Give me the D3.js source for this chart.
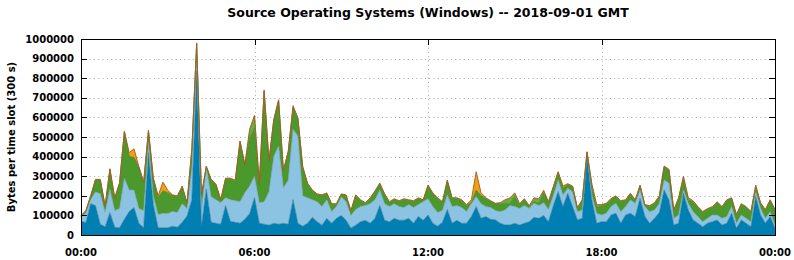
<!DOCTYPE html>
<html>
<head>
<meta charset="utf-8">
<script src="https://cdn.jsdelivr.net/npm/d3@7"></script>
<style>
  html, body { margin: 0; padding: 0; background: #fff; }
  #chart { width: 794px; height: 260px; }
  text { font-family: "DejaVu Sans", sans-serif; font-weight: bold; }
</style>
</head>
<body>
<div id="chart"></div>
<script>
// one sample every 10 minutes, values in kB per 300 s slot
var slotMinutes = 10;

var layerDarkBlue = [
    71,63,160,150,55,42,114,40,37,80,
    120,140,60,37,420,156,37,37,37,45,
    40,65,97,180,840,46,233,65,60,55,
    150,70,65,60,80,110,190,60,55,50,
    60,55,60,55,180,60,45,60,90,68,
    50,85,60,85,100,75,35,50,68,75,
    60,85,150,75,68,85,75,75,85,60,
    95,75,102,60,45,65,130,60,75,60,
    60,94,145,85,94,80,77,60,51,51,
    60,51,60,68,90,85,100,68,150,221,
    145,213,145,77,85,408,179,60,68,68,
    102,111,60,102,111,94,187,94,60,85,
    115,230,179,51,60,213,128,77,60,42,
    60,68,77,51,60,111,34,77,60,42,
    196,102,60,94,34
];
var layerLightBlue = [
    17,51,20,70,155,73,119,85,98,210,
    110,90,75,88,51,43,68,73,73,75,
    75,95,38,160,73,85,110,130,120,110,
    40,110,110,110,136,140,110,105,115,170,
    340,399,180,225,359,445,155,130,90,102,
    95,95,60,60,95,95,65,80,77,75,
    100,95,80,85,77,75,70,65,70,80,
    60,95,83,85,70,60,75,85,75,80,
    60,66,51,75,51,60,48,59,77,99,
    85,84,90,68,72,65,65,62,50,60,
    59,25,75,42,43,9,25,51,34,43,
    43,51,59,43,68,68,43,51,59,43,
    45,51,85,34,42,17,34,42,34,26,
    25,34,25,34,34,34,26,25,25,26,
    25,34,25,25,17
];
var layerGreen = [
    8,7,16,60,70,31,101,61,128,236,
    170,165,211,141,60,89,85,115,106,81,
    81,86,26,96,63,72,5,85,76,13,
    96,106,101,306,140,246,246,88,564,156,
    186,232,86,144,113,89,146,71,46,36,
    56,31,36,11,11,31,21,71,31,11,
    26,41,31,46,21,21,26,41,21,31,
    31,6,66,66,71,41,71,41,36,36,
    31,5,32,41,41,31,33,42,33,10,
    51,21,31,10,9,11,49,36,43,38,
    36,20,26,17,48,4,37,30,49,47,
    38,34,52,31,30,14,21,6,27,33,
    36,67,67,39,84,51,14,52,47,48,
    46,39,64,56,82,41,41,54,56,48,
    20,25,41,57,75
];
var layerLightGreen = [
    0,0,0,0,0,0,0,0,0,0,
    0,0,0,0,0,0,0,0,0,0,
    0,0,0,0,0,0,0,0,0,0,
    0,0,0,0,0,40,60,10,0,0,
    0,0,0,0,0,0,0,0,0,0,
    0,0,0,0,0,0,0,0,0,0,
    0,0,0,0,0,0,0,0,0,0,
    0,0,0,0,0,0,0,0,0,0,
    0,0,0,0,0,0,0,0,15,25,
    15,0,0,0,15,20,10,0,0,0,
    0,0,0,0,0,0,15,10,0,0,
    0,0,0,0,0,0,0,0,0,0,
    0,0,0,0,0,15,10,0,0,0,
    0,0,0,0,0,0,0,0,0,0,
    10,0,0,0,0
];
var layerOrange = [
    4,4,4,4,4,4,4,4,4,4,
    20,45,4,4,4,4,10,45,12,4,
    4,4,4,4,4,4,4,4,4,4,
    4,4,4,4,4,4,4,4,6,4,
    4,4,4,4,8,4,4,4,4,4,
    4,4,4,4,4,4,4,4,4,4,
    4,4,4,4,4,4,4,4,4,4,
    4,4,4,4,4,4,4,4,4,4,
    4,15,95,15,4,4,4,4,4,4,
    4,4,4,4,4,4,4,4,4,4,
    10,4,4,4,4,4,4,4,4,4,
    4,4,4,4,4,4,4,4,4,4,
    4,4,4,4,4,4,4,4,4,4,
    4,4,4,4,4,4,4,4,4,4,
    4,4,4,4,4
];

var layerKeys = ['darkBlue', 'lightBlue', 'green', 'lightGreen', 'orange'];
var layerFill = ['#0080b2', '#8cc3e3', '#4b992c', '#62b244', '#f0a010'];
var layerEdge = ['#2f6f8f', '#7a9fb5', '#3f7a25', '#4f9636', '#b0561c'];

var yTicks = [0, 100000, 200000, 300000, 400000, 500000, 600000, 700000, 800000, 900000, 1000000];
var xTicks = [0, 360, 720, 1080, 1440];
var xTickLabels = ['00:00', '06:00', '12:00', '18:00', '00:00'];

function drawChart() {
    var container = document.getElementById('chart');
    var width = 794, height = 260;
    var margin = { top: 39, right: 19, bottom: 25, left: 81 };
    var innerWidth = width - margin.left - margin.right;
    var innerHeight = height - margin.top - margin.bottom;

    var rows = layerDarkBlue.map(function(v, i) {
        return {
            minute: i * slotMinutes,
            darkBlue: v * 1000,
            lightBlue: layerLightBlue[i] * 1000,
            green: layerGreen[i] * 1000,
            lightGreen: layerLightGreen[i] * 1000,
            orange: layerOrange[i] * 1000
        };
    });

    var series = d3.stack().keys(layerKeys)(rows);

    var svg = d3.select(container).append('svg')
        .attr('width', width)
        .attr('height', height);

    var g = svg.append('g')
        .attr('transform', 'translate(' + margin.left + ',' + margin.top + ')');

    var x = d3.scaleLinear().domain([0, 1440]).range([0, innerWidth]);
    var y = d3.scaleLinear().domain([0, 1000000]).range([innerHeight, 0]);

    // dotted grid
    g.selectAll('line.hgrid')
        .data(yTicks.slice(1, -1))
        .enter().append('line')
        .attr('class', 'hgrid')
        .attr('x1', 0).attr('x2', innerWidth)
        .attr('y1', function(d){ return Math.round(y(d)) + 0.5; })
        .attr('y2', function(d){ return Math.round(y(d)) + 0.5; })
        .attr('stroke', '#a8a8a8')
        .attr('stroke-dasharray', '1,3.3');

    g.selectAll('line.vgrid')
        .data(xTicks.slice(1, -1))
        .enter().append('line')
        .attr('class', 'vgrid')
        .attr('x1', function(d){ return Math.round(x(d)) + 0.5; })
        .attr('x2', function(d){ return Math.round(x(d)) + 0.5; })
        .attr('y1', 0).attr('y2', innerHeight)
        .attr('stroke', '#a8a8a8')
        .attr('stroke-dasharray', '1,3.3');

    // stacked areas
    var area = d3.area()
        .x(function(d){ return x(d.data.minute); })
        .y0(function(d){ return y(d[0]); })
        .y1(function(d){ return y(d[1]); });

    var topLine = d3.line()
        .x(function(d){ return x(d.data.minute); })
        .y(function(d){ return y(d[1]); });

    g.selectAll('path.layer')
        .data(series)
        .enter().append('path')
        .attr('class', 'layer')
        .attr('fill', function(d, i){ return layerFill[i]; })
        .attr('d', area);

    g.selectAll('path.edge')
        .data(series)
        .enter().append('path')
        .attr('class', 'edge')
        .attr('fill', 'none')
        .attr('stroke', function(d, i){ return layerEdge[i]; })
        .attr('stroke-width', 1)
        .attr('opacity', function(d, i){ return i === 4 ? 0.9 : 0.6; })
        .attr('d', topLine);

    // ticks on all four sides, pointing inward
    var tickLen = 6;
    g.selectAll('line.ytickL')
        .data(yTicks)
        .enter().append('line')
        .attr('x1', 0).attr('x2', tickLen)
        .attr('y1', function(d){ return Math.round(y(d)) + 0.5; })
        .attr('y2', function(d){ return Math.round(y(d)) + 0.5; })
        .attr('stroke', '#000');
    g.selectAll('line.ytickR')
        .data(yTicks)
        .enter().append('line')
        .attr('x1', innerWidth - tickLen).attr('x2', innerWidth)
        .attr('y1', function(d){ return Math.round(y(d)) + 0.5; })
        .attr('y2', function(d){ return Math.round(y(d)) + 0.5; })
        .attr('stroke', '#000');
    g.selectAll('line.xtickT')
        .data(xTicks)
        .enter().append('line')
        .attr('x1', function(d){ return Math.round(x(d)) + 0.5; })
        .attr('x2', function(d){ return Math.round(x(d)) + 0.5; })
        .attr('y1', 0).attr('y2', tickLen)
        .attr('stroke', '#000');

    // frame
    g.append('rect')
        .attr('x', 0.5).attr('y', 0.5)
        .attr('width', innerWidth).attr('height', innerHeight)
        .attr('fill', 'none')
        .attr('stroke', '#000');

    // tick labels
    g.selectAll('text.ylab')
        .data(yTicks)
        .enter().append('text')
        .attr('class', 'ylab')
        .attr('x', -7)
        .attr('y', function(d){ return y(d); })
        .attr('dy', '0.36em')
        .attr('text-anchor', 'end')
        .style('font-size', '10px')
        .text(function(d){ return d; });

    g.selectAll('text.xlab')
        .data(xTicks)
        .enter().append('text')
        .attr('class', 'xlab')
        .attr('x', function(d){ return x(d); })
        .attr('y', innerHeight + 21)
        .attr('text-anchor', 'middle')
        .style('font-size', '10px')
        .text(function(d, i){ return xTickLabels[i]; });

    // titles
    svg.append('text')
        .attr('x', 428)
        .attr('y', 17)
        .attr('text-anchor', 'middle')
        .style('font-size', '12.5px')
        .text('Source Operating Systems (Windows) -- 2018-09-01 GMT');

    svg.append('text')
        .attr('transform', 'translate(15,' + (margin.top + innerHeight / 2) + ') rotate(-90)')
        .attr('text-anchor', 'middle')
        .style('font-size', '10px')
        .text('Bytes per time slot (300 s)');
}

drawChart();
</script>
</body>
</html>
